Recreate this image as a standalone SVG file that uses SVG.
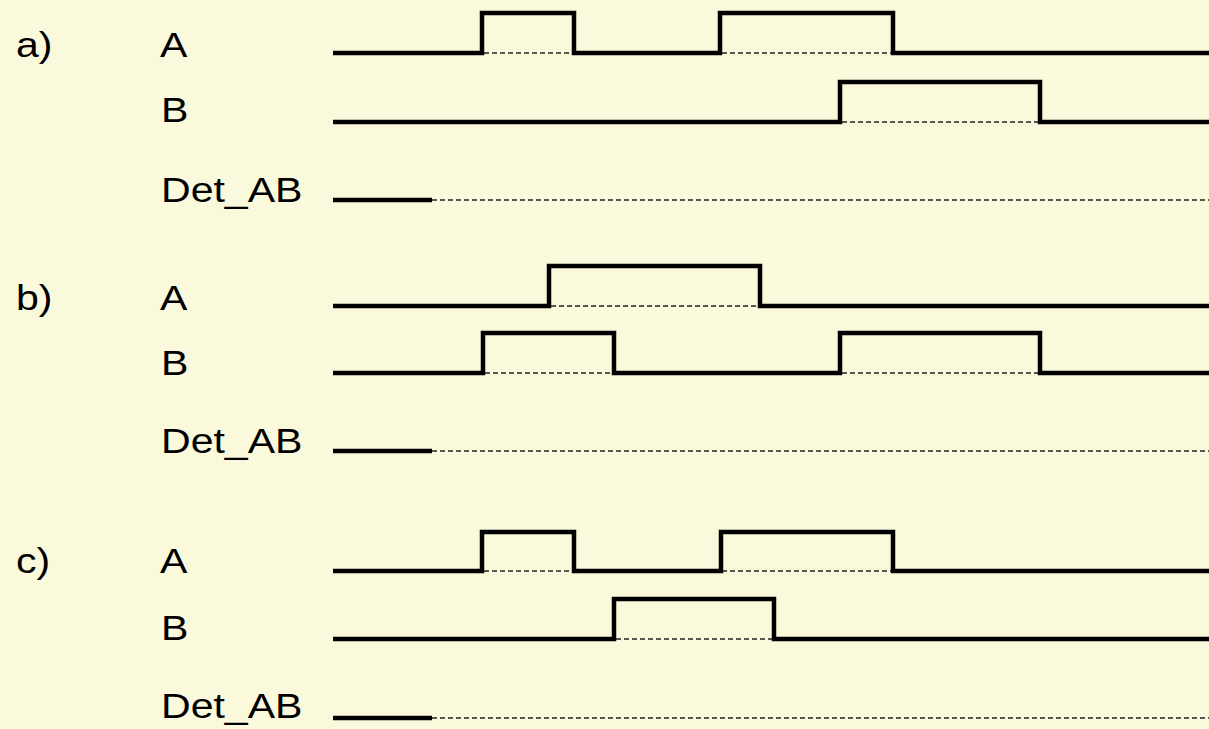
<svg xmlns="http://www.w3.org/2000/svg" width="1209" height="729" viewBox="0 0 1209 729">
<style>
.bg{fill:#FAF9DC}
.sig{fill:none;stroke:#000;stroke-width:4.5;stroke-linejoin:miter;stroke-linecap:butt}
.dash{fill:none;stroke:#222;stroke-width:1.3;stroke-dasharray:5 3}
.t{font-family:"Liberation Sans",Arial,sans-serif;font-size:34.5px;fill:#000}
</style>
<rect class="bg" x="0" y="0" width="1209" height="729"/>
<g id="labels">
<text class="t" transform="translate(16,57) scale(1.19,1)">a)</text>
<text class="t" transform="translate(160,57) scale(1.19,1)">A</text>
<text class="t" transform="translate(161,122) scale(1.19,1)">B</text>
<text class="t" transform="translate(161,202) scale(1.19,1)">Det_AB</text>
<text class="t" transform="translate(16,310) scale(1.19,1)">b)</text>
<text class="t" transform="translate(160,310) scale(1.19,1)">A</text>
<text class="t" transform="translate(161,375) scale(1.19,1)">B</text>
<text class="t" transform="translate(161,453) scale(1.19,1)">Det_AB</text>
<text class="t" transform="translate(16,573) scale(1.19,1)">c)</text>
<text class="t" transform="translate(160,573) scale(1.19,1)">A</text>
<text class="t" transform="translate(161,640) scale(1.19,1)">B</text>
<text class="t" transform="translate(161,718) scale(1.19,1)">Det_AB</text>
</g>
<g id="dashes">
<line class="dash" x1="484" y1="53" x2="572" y2="53"/>
<line class="dash" x1="722" y1="53" x2="891" y2="53"/>
<line class="dash" x1="842" y1="122" x2="1038" y2="122"/>
<line class="dash" x1="432" y1="200" x2="1209" y2="200"/>
<line class="dash" x1="551" y1="306" x2="758" y2="306"/>
<line class="dash" x1="485" y1="373" x2="612" y2="373"/>
<line class="dash" x1="842" y1="373" x2="1038" y2="373"/>
<line class="dash" x1="432" y1="451" x2="1209" y2="451"/>
<line class="dash" x1="484" y1="571" x2="572" y2="571"/>
<line class="dash" x1="722" y1="571" x2="891" y2="571"/>
<line class="dash" x1="616" y1="639" x2="772" y2="639"/>
<line class="dash" x1="432" y1="718" x2="1209" y2="718"/>
</g>
<g id="signals">
<path id="a_A" class="sig" d="M333,53 H482 V13 H574 V53 H720 V13 H893 V53 H1209"/>
<path id="a_B" class="sig" d="M333,122 H840 V82 H1040 V122 H1209"/>
<path id="a_Det" class="sig" d="M333,200 H432"/>
<path id="b_A" class="sig" d="M333,306 H549 V266 H760 V306 H1209"/>
<path id="b_B" class="sig" d="M333,373 H483 V333 H614 V373 H840 V333 H1040 V373 H1209"/>
<path id="b_Det" class="sig" d="M333,451 H432"/>
<path id="c_A" class="sig" d="M333,571 H482 V532 H574 V571 H721 V532 H893 V571 H1209"/>
<path id="c_B" class="sig" d="M333,639 H614 V599 H774 V639 H1209"/>
<path id="c_Det" class="sig" d="M333,718 H432"/>
</g>
</svg>
